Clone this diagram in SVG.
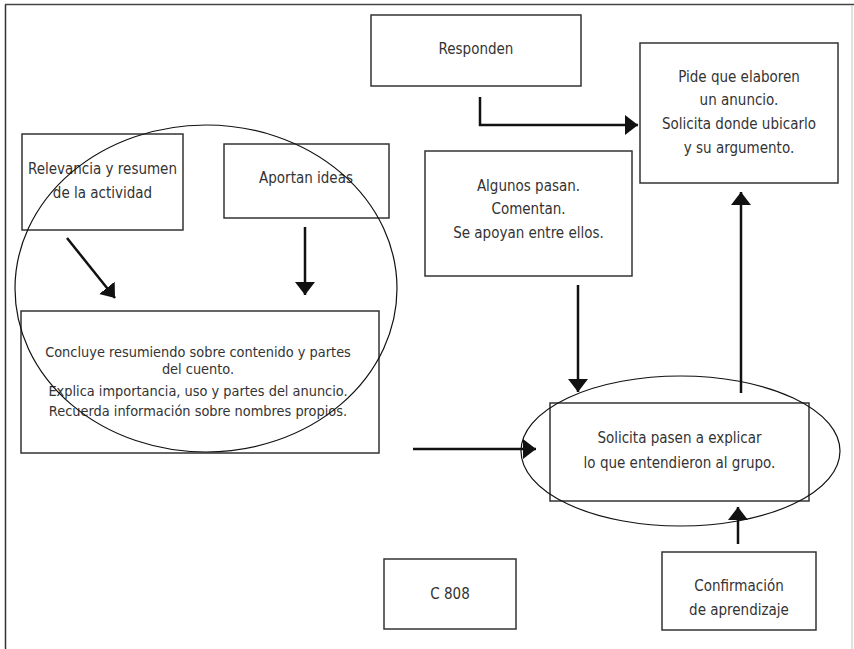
<svg xmlns="http://www.w3.org/2000/svg" width="854" height="649" viewBox="0 0 854 649">
<style>
.box{fill:#fff;stroke:#333;stroke-width:1.5}
.ell{fill:none;stroke:#111;stroke-width:1.2}
.t{font-family:"Liberation Sans Narrow","DejaVu Sans Condensed","Liberation Sans",sans-serif;font-size:15px;fill:#333;text-anchor:middle}
.s{font-size:14.4px}
.c{fill:none;stroke:#111;stroke-width:2.5}
</style>
<defs>
<marker id="ah" markerUnits="userSpaceOnUse" markerWidth="13" markerHeight="20" refX="13" refY="10" orient="auto"><path d="M0,0 L13,10 L0,20 z" fill="#111"/></marker>
</defs>
<rect width="854" height="649" fill="#fff"/>
<line x1="5.5" y1="4.5" x2="5.5" y2="649" stroke="#333" stroke-width="1.5"/>
<line x1="5" y1="4.5" x2="854" y2="4.5" stroke="#444" stroke-width="1.5"/>
<line x1="852" y1="5" x2="852" y2="649" stroke="#ccc" stroke-width="1.2"/>

<g id="responden"><rect class="box" x="371" y="15" width="210" height="71"/><text class="t" x="476" y="54">Responden</text></g>
<g id="pide"><rect class="box" x="640" y="43" width="198" height="140"/>
<text class="t" x="739" y="82">Pide que elaboren</text>
<text class="t" x="739" y="105">un anuncio.</text>
<text class="t" x="739" y="129">Solicita donde ubicarlo</text>
<text class="t" x="739" y="153">y su argumento.</text></g>
<g id="algunos"><rect class="box" x="425" y="151" width="207" height="125"/>
<text class="t" x="528.5" y="191">Algunos pasan.</text>
<text class="t" x="528.5" y="214">Comentan.</text>
<text class="t" x="528.5" y="238">Se apoyan entre ellos.</text></g>
<g id="relevancia"><rect class="box" x="22" y="134" width="161" height="96"/>
<text class="t" x="102.5" y="174">Relevancia y resumen</text>
<text class="t" x="102.5" y="198">de la actividad</text></g>
<g id="aportan"><rect class="box" x="224" y="144" width="165" height="74"/>
<text class="t" x="306" y="183">Aportan ideas</text></g>
<g id="concluye"><rect class="box" x="21" y="311" width="358" height="142"/>
<text class="t s" x="198" y="357">Concluye resumiendo sobre contenido y partes</text>
<text class="t s" x="198" y="374">del cuento.</text>
<text class="t s" x="198" y="396">Explica importancia, uso y partes del anuncio.</text>
<text class="t s" x="198" y="416">Recuerda información sobre nombres propios.</text></g>
<g id="solicita"><rect class="box" x="550" y="403" width="259" height="98"/>
<text class="t" x="679.5" y="443">Solicita pasen a explicar</text>
<text class="t" x="679.5" y="468">lo que entendieron al grupo.</text></g>
<g id="c808"><rect class="box" x="384" y="559" width="132" height="70"/>
<text class="t" x="450" y="599">C 808</text></g>
<g id="confirmacion"><rect class="box" x="662" y="552" width="154" height="78"/>
<text class="t" x="739" y="591">Confirmación</text>
<text class="t" x="739" y="615">de aprendizaje</text></g>

<g id="grupos">
<ellipse class="ell" cx="206" cy="288.5" rx="191" ry="163.5"/>
<ellipse class="ell" cx="680.5" cy="451" rx="159.5" ry="75"/>
</g>

<g id="connectors">
<path class="c" d="M480,97 V125 H638" marker-end="url(#ah)"/>
<path class="c" d="M67,238 L115,298" marker-end="url(#ah)"/>
<path class="c" d="M305,227 V295" marker-end="url(#ah)"/>
<path class="c" d="M578,285 V392" marker-end="url(#ah)"/>
<path class="c" d="M413,449 H536" marker-end="url(#ah)"/>
<path class="c" d="M741,393 V192" marker-end="url(#ah)"/>
<path class="c" d="M738,544 V507" marker-end="url(#ah)"/>
</g>
</svg>
